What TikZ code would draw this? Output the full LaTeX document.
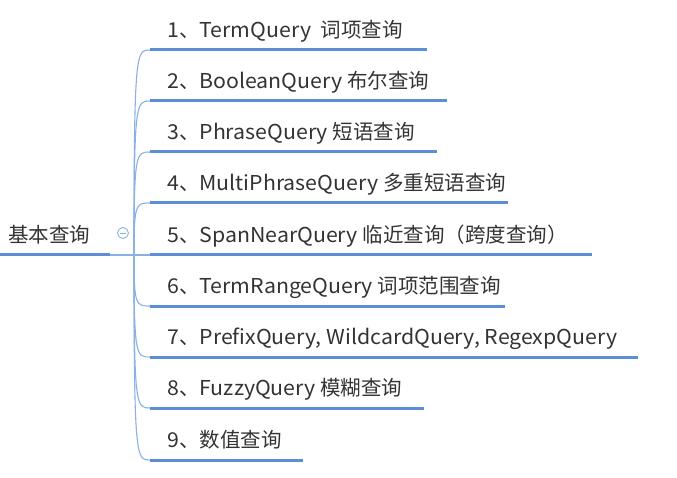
\documentclass[tikz,border=0pt]{standalone}
\usepackage{fontspec}
\setmainfont{Noto Sans CJK SC}[FakeStretch=1.04]
\newfontfamily\cjk{Noto Sans CJK SC}
\definecolor{lineblue}{HTML}{5B8ED6}
\definecolor{thinblue}{HTML}{8AB0E4}
\definecolor{txt}{HTML}{333333}
\begin{document}
\begin{tikzpicture}[x=1pt,y=-1pt,
  lbl/.style={anchor=base west,inner sep=0pt,text=txt,font=\fontsize{20.5}{20.5}\selectfont},
  uline/.style={draw=lineblue,line width=3pt},
  conn/.style={draw=thinblue,line width=1.1pt}]
\useasboundingbox (0,0) rectangle (677,478);
% root
\node[lbl] (root) at (8,243) {\cjk 基本查询};
\coordinate (rl) at (0,255);
\coordinate (rr) at (110,255);
\draw[uline] (rl) -- (rr);
\coordinate (hub) at (134,255);
\draw[conn] (rr) -- (hub);
\node[draw=thinblue,line width=0.9pt,circle,minimum size=11pt,inner sep=0pt] (col) at (123,233) {};
\draw[thinblue,line width=0.9pt] ([xshift=-3pt]col.center) -- ([xshift=3pt]col.center);
% branches
\foreach \i/\y/\xe/\t in {
 1/50/427/{1{\cjk 、}TermQuery\ \ {\cjk 词项查询}},
 2/101/447/{2{\cjk 、}BooleanQuery {\cjk 布尔查询}},
 3/152/437/{3{\cjk 、}PhraseQuery {\cjk 短语查询}},
 4/203/508/{4{\cjk 、}MultiPhraseQuery {\cjk 多重短语查询}},
 5/255/592/{5{\cjk 、}SpanNearQuery {\cjk 临近查询（跨度查询）}},
 6/306/505/{6{\cjk 、}TermRangeQuery {\cjk 词项范围查询}},
 7/357/638/{7{\cjk 、}PrefixQuery, WildcardQuery, RegexpQuery},
 8/408/424/{8{\cjk 、}FuzzyQuery {\cjk 模糊查询}},
 9/460/303/{9{\cjk 、数值查询}}}
{
  \coordinate (s\i) at (150,\y);
  \coordinate (e\i) at (\xe,\y);
  \node[lbl] (t\i) at (167,\y-12.5) {\t};
  \draw[uline] (s\i) -- (e\i);
  \draw[conn] (hub) .. controls (134,\y) and (136,\y) .. (s\i);
}
\end{tikzpicture}
\end{document}
